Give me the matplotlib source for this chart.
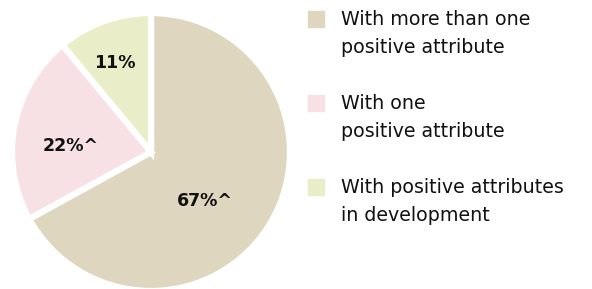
import matplotlib.pyplot as plt
from matplotlib.patches import Rectangle

# slice data (clockwise from top)
shares = [67, 22, 11]
pct_labels = ['67%^', '22%^', '11%']
legend_labels = ['With more than one\npositive attribute',
                 'With one\npositive attribute',
                 'With positive attributes\nin development']
colors = ['#DED6BE', '#F7E1E4', '#E9EEC9']

# where the percentage labels sit inside the pie (unit radius)
label_xy = [(0.39, -0.35), (-0.58, 0.04), (-0.26, 0.64)]

plt.rcParams['font.family'] = ['DejaVu Sans']

W, H = 592, 289
fig = plt.figure(figsize=(W / 100, H / 100), dpi=100)
ax = fig.add_axes([12 / W, -2 / H, 278 / W, 278 / H])
ax.pie(shares, colors=colors, startangle=90, counterclock=False,
       wedgeprops=dict(edgecolor='white', linewidth=4.5))
ax.set_xlim(-1, 1)
ax.set_ylim(-1, 1)

for (x, y), txt in zip(label_xy, pct_labels):
    ax.text(x, y, txt, ha='center', va='center', fontsize=12.5,
            fontweight='bold', color='#111111')

# legend drawn by hand so the swatch lines up with the first text line
for i, (lab, col) in enumerate(zip(legend_labels, colors)):
    base = 26 + 84 * i
    fig.patches.append(Rectangle((308 / W, (H - base - 1) / H), 16 / W, 16 / H,
                                 transform=fig.transFigure, color=col))
    fig.text(341 / W, (H - base - 27) / H, lab, ha='left', va='baseline',
             fontsize=13.7, color='#111111', linespacing=1.62)

fig.savefig('out.png', dpi=100)
